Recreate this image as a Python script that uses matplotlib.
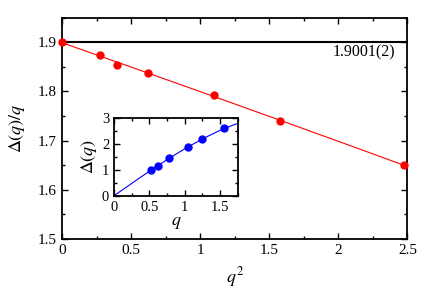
import numpy as np
import matplotlib
matplotlib.use('Agg')
import matplotlib.pyplot as plt
from matplotlib.ticker import MultipleLocator, FormatStrFormatter

plt.rcParams['font.family'] = ['Liberation Serif', 'DejaVu Serif']
plt.rcParams['mathtext.fontset'] = 'stix'

# main panel: Delta(q)/q against q^2
q2 = [0.0, 0.275, 0.396, 0.621, 1.101, 1.58, 2.473]
ratio = [1.9, 1.874, 1.854, 1.838, 1.792, 1.740, 1.650]
limit = 1.9001
limit_label = '1.9001(2)'

# inset: Delta(q) against q
q = [0.52, 0.625, 0.78, 1.04, 1.245, 1.56]
delta = [0.97, 1.16, 1.44, 1.88, 2.19, 2.61]

# quadratic fit through the main points
coef = np.polyfit(q2, ratio, 2)


def style_axes(ax, size):
    for s in ax.spines.values():
        s.set_linewidth(1.3)
    ax.tick_params(which='both', direction='in', top=True, right=True,
                   width=1.0, labelsize=size)
    ax.tick_params(which='major', length=4)
    ax.tick_params(which='minor', length=2.5)


fig = plt.figure(figsize=(4.36, 3.05), dpi=100)
ax = fig.add_axes([0.1422, 0.2164, 0.7924, 0.7262])

xf = np.linspace(0, max(q2), 200)
ax.plot(xf, np.polyval(coef, xf), color='red', lw=0.8)
ax.axhline(limit, color='black', lw=1.5)
ax.plot(q2, ratio, 'o', color='red', ms=5, clip_on=False, zorder=5)
ax.text(2.41, 1.880, limit_label, ha='right', va='center', fontsize=11.5)

ax.set_xlim(0, 2.5)
ax.set_ylim(1.5, 1.95)
ax.xaxis.set_major_locator(MultipleLocator(0.5))
ax.xaxis.set_minor_locator(MultipleLocator(0.25))
ax.yaxis.set_major_locator(MultipleLocator(0.1))
ax.yaxis.set_minor_locator(MultipleLocator(0.05))
ax.xaxis.set_major_formatter(FormatStrFormatter('%g'))
ax.yaxis.set_major_formatter(FormatStrFormatter('%.1f'))
style_axes(ax, 11)
ax.set_xlabel(r'$q^2$', fontsize=13, labelpad=6)
ax.set_ylabel(r'$\Delta(q)/q$', fontsize=13, labelpad=8)

# inset
ins = fig.add_axes([0.2615, 0.3584, 0.2837, 0.2557])
qf = np.linspace(0, 1.8, 200)
ins.plot(qf, qf * np.polyval(coef, qf ** 2), color='blue', lw=0.8)
ins.plot(q, delta, 'o', color='blue', ms=5)
ins.set_xlim(0, 1.75)
ins.set_ylim(0, 3)
ins.xaxis.set_major_locator(MultipleLocator(0.5))
ins.xaxis.set_minor_locator(MultipleLocator(0.25))
ins.yaxis.set_major_locator(MultipleLocator(1))
ins.yaxis.set_minor_locator(MultipleLocator(0.5))
ins.xaxis.set_major_formatter(FormatStrFormatter('%g'))
style_axes(ins, 10.5)
ins.set_xlabel(r'$q$', fontsize=13, labelpad=0)
ins.set_ylabel(r'$\Delta(q)$', fontsize=13, labelpad=2)

fig.savefig('out.png', dpi=100)
